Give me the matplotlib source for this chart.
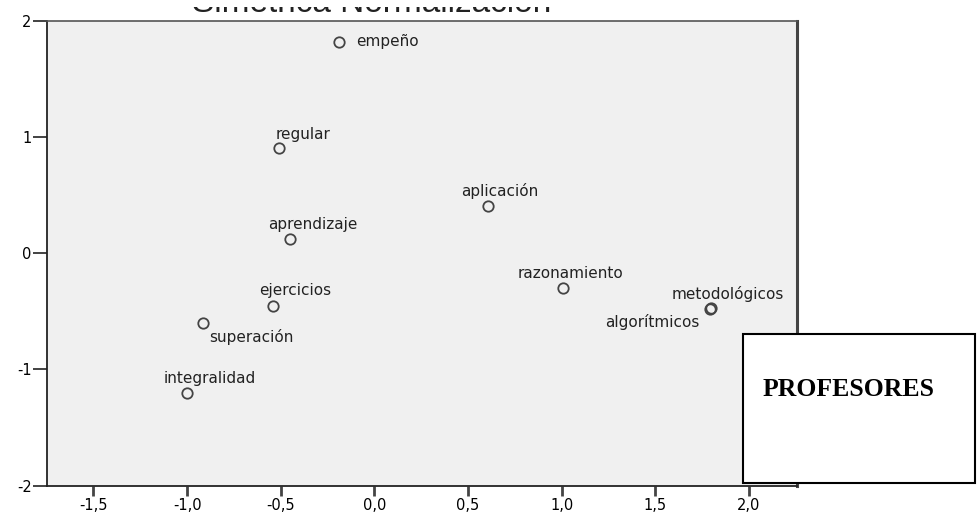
import matplotlib.pyplot as plt
from matplotlib.patches import Rectangle

# datos (dimension 1, dimension 2)
labels = ["empeño", "regular", "aplicación", "aprendizaje", "razonamiento",
          "metodológicos", "algorítmicos", "ejercicios", "superación", "integralidad"]
dim1 = [-0.187, -0.507, 0.609, -0.450, 1.007, 1.800, 1.792, -0.539, -0.916, -0.998]
dim2 = [1.820, 0.903, 0.409, 0.120, -0.298, -0.468, -0.478, -0.451, -0.602, -1.199]

xticks = [-1.5, -1.0, -0.5, 0.0, 0.5, 1.0, 1.5, 2.0]
yticks = [-2, -1, 0, 1, 2]

# desplazamiento de cada etiqueta en pixeles (dx, dy, alineacion)
offs = {
    "empeño": (17, -4, "left"),
    "regular": (24, 9, "center"),
    "aplicación": (11, 10, "center"),
    "aprendizaje": (23, 10, "center"),
    "razonamiento": (8, 10, "center"),
    "metodológicos": (16, 9, "center"),
    "algorítmicos": (-58, -18, "center"),
    "ejercicios": (22, 11, "center"),
    "superación": (49, -19, "center"),
    "integralidad": (22, 10, "center"),
}

fig = plt.figure(figsize=(9.79, 5.12), dpi=100)
ax = fig.add_axes([0.0480, 0.0514, 0.7658, 0.9082])
ax.set_facecolor("#f0f0f0")

ax.plot(dim1, dim2, "o", ms=7.5, mfc="none", mec="#444444", mew=1.3, zorder=3)
for lab, x, y in zip(labels, dim1, dim2):
    dx, dy, ha = offs[lab]
    ax.annotate(lab, (x, y), xytext=(dx, dy), textcoords="offset pixels",
                ha=ha, va="baseline", fontsize=11, color="#222222")

ax.set_xlim(-1.748, 2.255)
ax.set_ylim(-2, 2)
ax.set_xticks(xticks)
ax.set_xticklabels([("%.1f" % t).replace(".", ",") for t in xticks])
ax.set_yticks(yticks)
ax.set_yticklabels([str(t) for t in yticks])
ax.tick_params(axis="x", length=7, width=2, color="#444444", labelsize=10.5, pad=2)
ax.tick_params(axis="y", length=10, width=1.2, color="#222222", labelsize=10.5, pad=1)

for s in ["left", "bottom"]:
    ax.spines[s].set_color("#222222")
    ax.spines[s].set_linewidth(1.3)
ax.spines["top"].set_color("#555555")
ax.spines["top"].set_linewidth(1.2)
ax.spines["right"].set_color("#444444")
ax.spines["right"].set_linewidth(2.2)

# titulo recortado arriba: solo se ve la franja inferior de las letras
fig.text(372 / 979, 1 - 12 / 512, "Simétrica Normalización", ha="center",
         va="baseline", fontsize=24, color="#222222", family="Liberation Sans",
         zorder=5)
cover = Rectangle((0, 1 - 7 / 512), 1, 7 / 512, transform=fig.transFigure,
                  facecolor="white", edgecolor="none", zorder=100)
fig.patches.append(cover)

box = Rectangle((0.7586, 0.0566), 0.2373, 0.2904, transform=fig.transFigure,
                facecolor="white", edgecolor="black", lw=1.5, zorder=10)
fig.add_artist(box)
fig.text(0.779, 1 - 389 / 512, "PROFESORES", ha="left", va="center",
         fontsize=18.5, fontweight="bold", family="Liberation Serif", zorder=11)

plt.savefig("out.png", dpi=100)
